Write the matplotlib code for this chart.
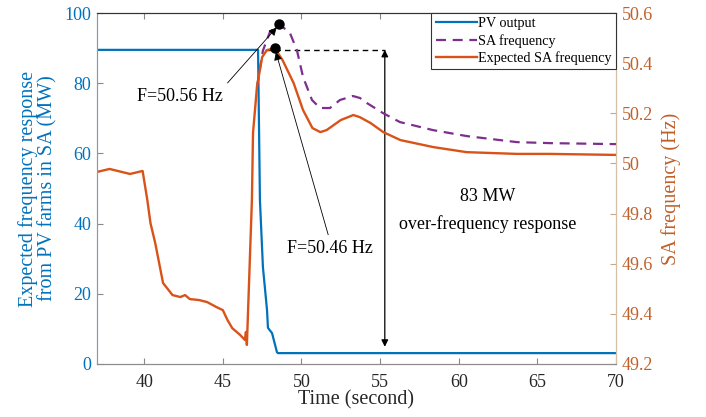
import matplotlib
matplotlib.use("Agg")
import matplotlib.pyplot as plt
import numpy as np
from matplotlib.lines import Line2D

plt.rcParams["font.family"] = ["Liberation Serif", "DejaVu Serif"]

# PV output (MW, left axis)
t_pv = [37.0, 47.24, 47.36, 47.55, 47.81, 47.87, 48.13, 48.44, 48.5, 70.0]
pv_mw = [89.5, 89.5, 46.7, 27.6, 15.4, 10.3, 8.8, 3.4, 3.1, 3.1]

# expected SA frequency (Hz, right axis)
t_exp = [37.0, 37.8, 39.1, 39.9, 40.2, 40.4, 40.7, 41.0, 41.2, 41.8, 42.3, 42.6,
         42.9, 43.5, 44.0, 44.6, 45.0, 45.3, 45.6, 46.1, 46.4, 46.47, 46.53,
         46.85, 46.92, 47.17, 47.5, 47.8, 48.3, 48.8, 49.5, 50.1, 50.7, 51.2,
         51.6, 52.5, 53.3, 53.7, 54.4, 55.2, 56.3, 58.4, 60.5, 63.7, 65.8, 70.0]
f_exp = [49.966, 49.978, 49.958, 49.970, 49.854, 49.762, 49.683, 49.587, 49.523,
         49.475, 49.467, 49.475, 49.459, 49.455, 49.447, 49.427, 49.415, 49.375,
         49.343, 49.316, 49.296, 49.328, 49.276, 49.854, 50.121, 50.305, 50.424,
         50.452, 50.460, 50.412, 50.321, 50.213, 50.141, 50.125, 50.133, 50.173,
         50.193, 50.185, 50.161, 50.125, 50.093, 50.065, 50.045, 50.038, 50.038,
         50.034]

# measured SA frequency (Hz, right axis); before 47.2 s it lies under the expected curve
t_sa = [47.17, 47.55, 48.0, 48.6, 49.27, 49.71, 50.1, 50.67, 51.18, 51.81,
        52.45, 53.27, 53.72, 54.16, 55.18, 56.26, 58.36, 60.52, 63.7, 65.8, 70.0]
f_sa = [50.305, 50.45, 50.525, 50.555, 50.52, 50.452, 50.345, 50.253,
        50.221, 50.221, 50.253, 50.269, 50.261, 50.241, 50.201,
        50.165, 50.133, 50.109, 50.085, 50.081, 50.077]

c_blue = "#0072BD"
c_orange = "#D95319"
c_purple = "#7E2F8E"

fig = plt.figure(figsize=(7.06, 4.17), dpi=100)
ax = fig.add_axes([0.1374, 0.1271, 0.7351, 0.8417])
ax2 = ax.twinx()

ax.plot(t_pv, pv_mw, color=c_blue, lw=1.6)
ax2.plot(t_sa, f_sa, color=c_purple, lw=1.6, ls=(0, (4.5, 3)))
ax2.plot(t_exp, f_exp, color=c_orange, lw=1.7)

ax.set_xlim(37, 70)
ax.set_ylim(0, 100)
ax2.set_ylim(49.2, 50.6)
ax.set_xticks([40, 45, 50, 55, 60, 65, 70])
ax.set_yticks([0, 20, 40, 60, 80, 100])
ax2.set_yticks(np.round(np.arange(49.2, 50.61, 0.2), 1))
ax2.set_yticklabels([f"{v:g}" for v in np.round(np.arange(49.2, 50.61, 0.2), 1)])

ax.tick_params(axis="x", direction="in", top=True, length=4, labelsize=13,
               pad=7, color="#888888", labelcolor="#262626")
ax.tick_params(axis="y", direction="in", length=4, labelsize=13, pad=4,
               color="#888888", labelcolor=c_blue)
ax2.tick_params(axis="y", direction="in", length=4, labelsize=13, pad=4,
                color="#c9a887", labelcolor="#C0602A")

for a in (ax, ax2):
    a.spines["left"].set_color("#8c9aa6")
    a.spines["bottom"].set_color("#8c8c8c")
    a.spines["top"].set_color("#333333")
    a.spines["right"].set_color("#d6bfa8")

ax.set_xlabel("Time (second)", fontsize=14.5, color="#262626", labelpad=0)
ax.set_ylabel("Expected frequency response\nfrom PV farms in SA (MW)",
              fontsize=14.5, color=c_blue, labelpad=5, linespacing=1.0)
ax2.set_ylabel("SA frequency (Hz)", fontsize=14.5, color="#C0602A", labelpad=6)

# dashed reference level and response arrow
ax.plot([47.7, 55.3], [pv_mw[0], pv_mw[0]], color="k", lw=1.0, ls=(0, (4, 3)))
ax.annotate("", xy=(55.3, pv_mw[0]), xytext=(55.3, pv_mw[-1] + 1.8),
            arrowprops=dict(arrowstyle="<|-|>", color="k", lw=0.9,
                            mutation_scale=10, shrinkA=0, shrinkB=0))
ax.text(61.86, 47.6, "83 MW", fontsize=13, ha="center", va="center")
ax.text(61.86, 39.9, "over-frequency response", fontsize=13, ha="center", va="center")

# peak markers
i_sa = int(np.argmax(f_sa))
i_exp = int(np.argmax(f_exp))
ax2.plot(t_sa[i_sa], f_sa[i_sa], "o", color="k", ms=6.5)
ax2.plot(t_exp[i_exp], f_exp[i_exp], "o", color="k", ms=6.5)
ax2.annotate("F=50.56 Hz", xy=(t_sa[i_sa], f_sa[i_sa]), xytext=(42.3, 50.268),
             fontsize=13, ha="center", va="center",
             arrowprops=dict(arrowstyle="-|>", color="k", lw=0.6,
                             mutation_scale=12, relpos=(1.0, 1.0), shrinkB=3))
ax2.annotate("F=50.46 Hz", xy=(t_exp[i_exp], f_exp[i_exp]), xytext=(51.8, 49.66),
             fontsize=13, ha="center", va="center",
             arrowprops=dict(arrowstyle="-|>", color="k", lw=0.6,
                             mutation_scale=12, relpos=(0.5, 1.0), shrinkB=3))

handles = [Line2D([], [], color=c_blue, lw=1.6),
           Line2D([], [], color=c_purple, lw=1.6, ls=(0, (4.5, 3))),
           Line2D([], [], color=c_orange, lw=1.7)]
leg = ax2.legend(handles, ["PV output", "SA frequency", "Expected SA frequency"],
                 loc="upper right", fontsize=10.2, frameon=True, fancybox=False,
                 edgecolor="#333333", framealpha=1, borderaxespad=0,
                 handlelength=2.9, handletextpad=0.1, labelspacing=0.25,
                 borderpad=0.3)
leg.get_frame().set_linewidth(0.8)

fig.savefig("out.png", dpi=100)
